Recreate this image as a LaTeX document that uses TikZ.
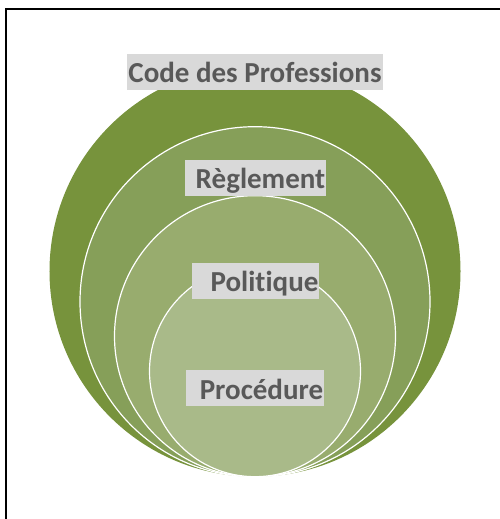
\documentclass[tikz,border=0pt]{standalone}
\usepackage{fontspec}
\setmainfont{Carlito}[Ligatures=NoCommon]
\definecolor{ringA}{RGB}{119,147,60}
\definecolor{ringB}{RGB}{134,159,89}
\definecolor{ringC}{RGB}{152,172,110}
\definecolor{ringD}{RGB}{169,186,137}
\definecolor{tagbg}{RGB}{217,217,217}
\definecolor{tagfg}{RGB}{89,89,89}
\tikzset{
  ring/.style={fill=#1, draw=white, line width=1.2bp},
  tag/.style={fill=tagbg, text=tagfg, font=\fontsize{29bp}{34bp}\selectfont\bfseries,
    inner xsep=1bp, inner ysep=0pt, text height=29bp, text depth=7bp}
}
\begin{document}
\begin{tikzpicture}[x=1bp,y=-1bp]
  \useasboundingbox (0,0) rectangle (500,519);
  % frame
  \draw[line width=2bp] (6,519) -- (6,8.8) -- (500,8.8);
  % nested circles, all touching at the bottom
  \fill[ringA] (255,271.2) circle[radius=205.5bp];
  \draw[ring=ringB] (255,301.7) circle[radius=175bp];
  \draw[ring=ringC] (255,336.2) circle[radius=140.5bp];
  \draw[ring=ringD] (255,371.2) circle[radius=105.5bp];
  % labels
  \node[tag] (code) at (255,72) {Code des Professions};
  \node[tag] (regl) at (255.5,177.8) {\hspace*{10bp}Règlement};
  \node[tag] (poli) at (255.5,280.8) {\hspace*{18bp}Politique};
  \node[tag] (proc) at (255,388) {\hspace*{13bp}Procédure};
\end{tikzpicture}
\end{document}
